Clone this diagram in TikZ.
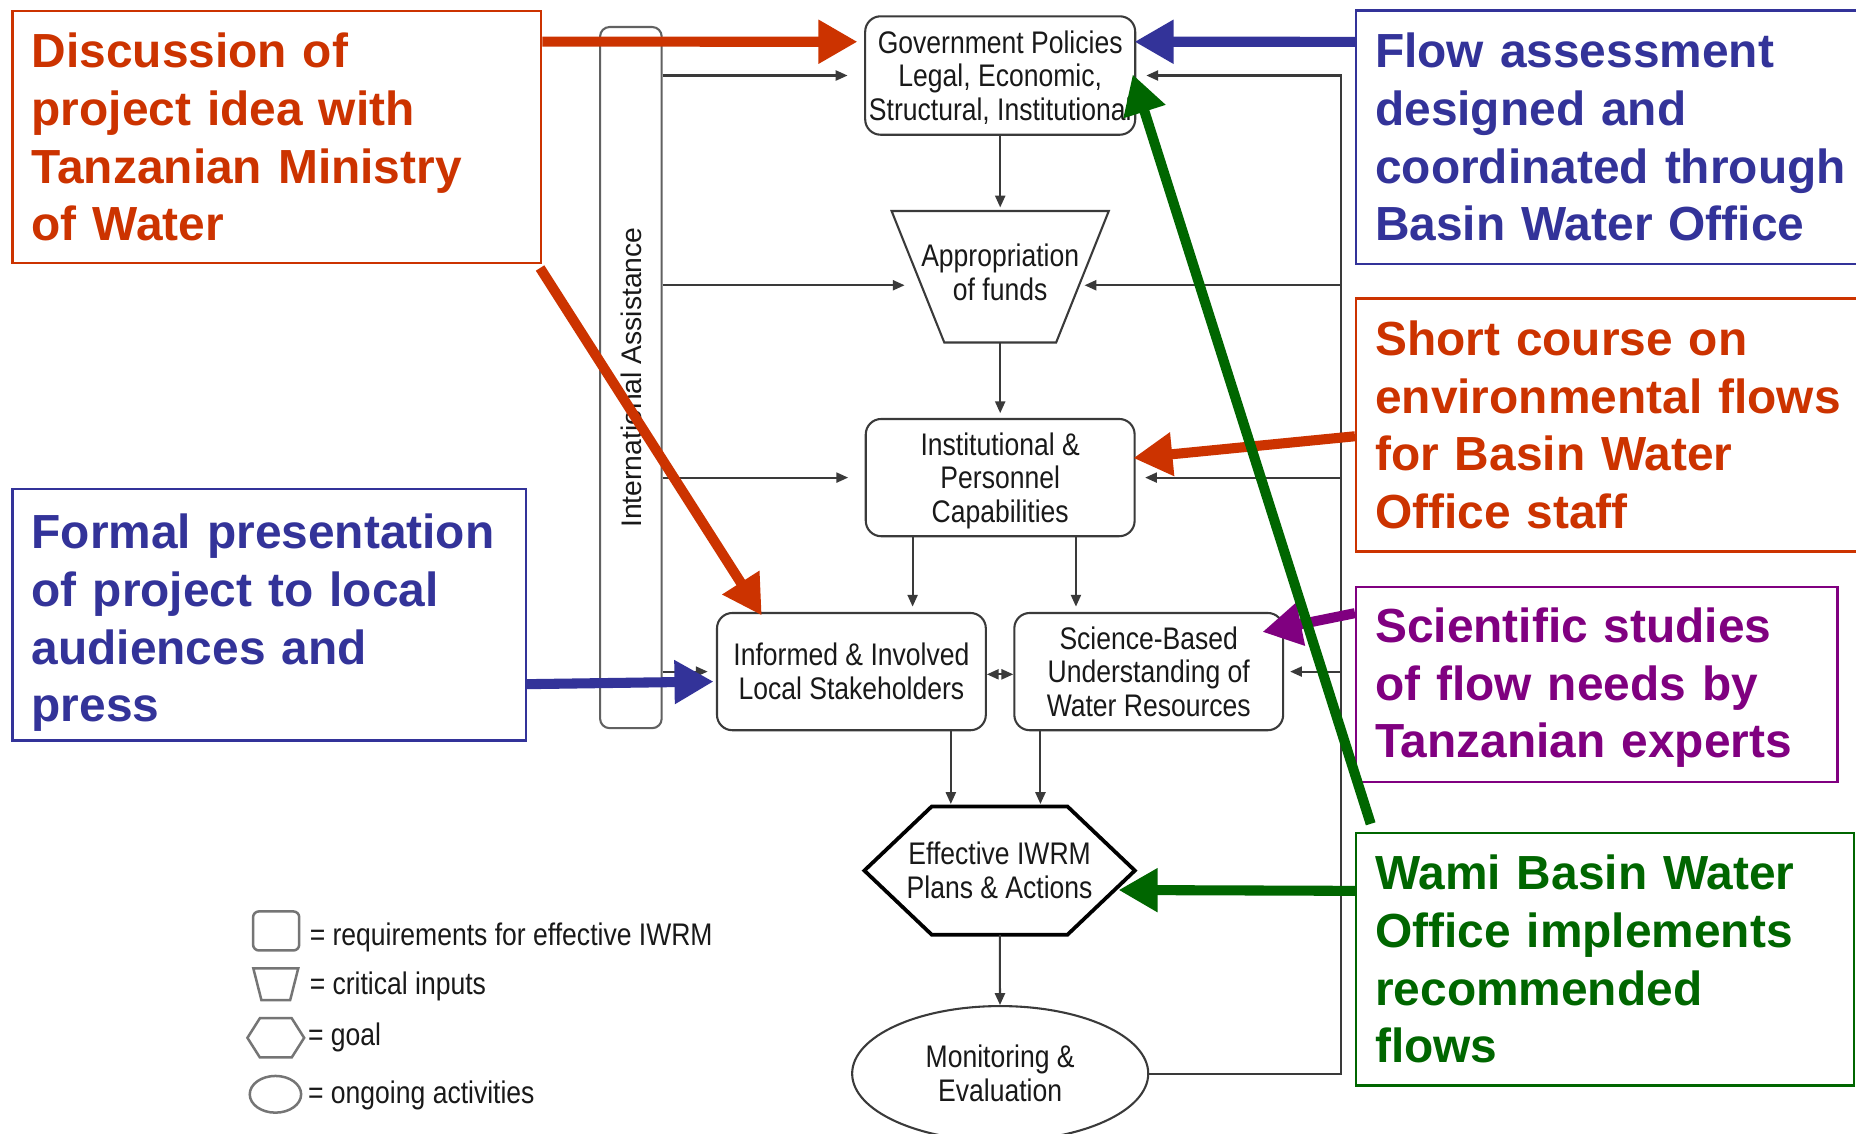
\documentclass[tikz,border=0pt]{standalone}
\usepackage{fontspec}
\setmainfont{Liberation Sans}
\newfontfamily\narrowsans[FakeStretch=0.85]{Liberation Sans}
\usepackage{graphicx}
\usetikzlibrary{arrows.meta,calc,positioning,shapes.geometric}
\definecolor{NoteRed}{HTML}{CC3300}
\definecolor{NoteBlue}{HTML}{333399}
\definecolor{NotePurple}{HTML}{800080}
\definecolor{NoteGreen}{HTML}{006600}
\definecolor{LineGrey}{HTML}{3A3A3A}

\begin{document}
\begin{tikzpicture}[x=0.01cm, y=-0.01cm,
    every node/.style={font=\narrowsans\fontsize{7.5}{8.1}\selectfont, text=black!90},
    reqbox/.style={draw=LineGrey, line width=0.5pt, rounded corners=0.13cm, inner sep=0pt, minimum width=2.27cm, minimum height=0.99cm, align=center},
    flow/.style={draw=LineGrey, line width=0.5pt, -{Triangle[length=0.1cm, width=0.085cm]}},
    note/.style={draw=#1, text=#1, line width=0.6pt, anchor=north west, align=left, inner xsep=0.16cm, inner ysep=0pt, font=\normalfont\fontsize{11.5}{13.85}\selectfont\bfseries},
    pointer/.style={draw=#1, line width=0.085cm, -{Triangle[length=0.33cm, width=0.35cm]}},
    keyshape/.style={draw=LineGrey!70, line width=0.6pt, inner sep=0pt}]
    \useasboundingbox (0,0) rectangle (1568,958);
    \fill[white] (0,0) rectangle (1568,958);

    \node[note=NoteRed, text width=4.142cm, minimum height=2.13cm] (disc) at (9.7,8.2) {Discussion of\\project idea with\\Tanzanian Ministry\\of Water};
    \node[note=NoteBlue, text width=4.013cm, minimum height=2.125cm, text depth=40pt] (formal) at (9.7,412) {Formal presentation\\of project to local\\audiences and\\press};
    \node[note=NoteBlue, text width=4.08cm, minimum height=2.138cm] (flow) at (1144.7,8) {Flow assessment\\designed and\\coordinated through\\Basin Water Office};
    \node[note=NoteRed, text width=4.08cm, minimum height=2.137cm] (short) at (1144.7,251) {Short course on\\environmental flows\\for Basin Water\\Office staff};
    \node[note=NotePurple, text width=3.743cm, minimum height=1.647cm, text depth=28.4pt] (sci) at (1144.7,494.7) {Scientific studies\\of flow needs by\\Tanzanian experts};
    \node[note=NoteGreen, text width=3.881cm, minimum height=2.133cm] (wami) at (1144.7,702.7) {Wami Basin Water\\Office implements\\recommended\\flows};

    \node[draw=LineGrey!80, line width=0.5pt, rounded corners=0.08cm, minimum width=0.52cm, minimum height=5.92cm, inner sep=0pt, font=\normalfont\fontsize{6.8}{8}\selectfont] (intl) at (533,319) {\rotatebox{90}{International Assistance}};

    \node[reqbox, minimum width=2.28cm, minimum height=1.0cm, text depth=0pt] (gov) at (845,63.8) {Government Policies\\Legal, Economic,\\Structural, Institutional};
    \node[inner sep=0pt, minimum width=1.82cm, minimum height=1.096cm, align=center, text depth=2.3pt] (funds) at (845,233.8) {Appropriation\\of funds};
    \draw[draw=LineGrey, line width=0.5pt] (funds.north west) -- (funds.north east) -- ($(funds.south east)+(-44.5,0)$) -- ($(funds.south west)+(44.5,0)$) -- cycle;
    \node[reqbox, text depth=0pt] (inst) at (845,403.5) {Institutional \&\\Personnel\\Capabilities};
    \node[reqbox] (informed) at (719.3,567.4) {Informed \& Involved\\Local Stakeholders};
    \node[reqbox] (science) at (970.5,567.4) {Science-Based\\Understanding of\\Water Resources};
    \node[inner sep=0pt, minimum width=2.27cm, minimum height=1.07cm, align=center] (effective) at (844.5,735.5) {Effective IWRM\\Plans \& Actions};
    \draw[line width=0.9pt] (effective.west) -- ($(effective.north west)+(57,0)$) -- ($(effective.north east)+(-57,0)$) -- (effective.east) -- ($(effective.south east)+(-57,0)$) -- ($(effective.south west)+(57,0)$) -- cycle;
    \node[draw=LineGrey, line width=0.5pt, ellipse, inner sep=0pt, minimum width=2.5cm, minimum height=1.14cm, align=center] (monitor) at (845,907) {Monitoring \&\\Evaluation};

    \coordinate (fundsin) at ($(funds.west)+(11,7.2)$);
    \coordinate (fundsout) at ($(funds.east)+(-20.5,7.2)$);
    \coordinate (bustop) at ($(gov.east)+(173,0)$);
    \coordinate (splitL) at ($(inst.south)+(-74,0)$);
    \coordinate (splitR) at ($(inst.south)+(64,0)$);
    \coordinate (mergeL) at ($(informed.south)+(84,0)$);
    \coordinate (mergeR) at ($(science.south)+(-91.5,0)$);

    \draw[flow, shorten >=0.03cm] (gov) -- (funds);
    \draw[flow, shorten >=0.04cm] (funds) -- (inst);
    \draw[flow, shorten >=0.045cm] (splitL) -- (splitL |- informed.north);
    \draw[flow, shorten >=0.045cm] (splitR) -- (splitR |- science.north);
    \draw[flow, {Triangle[length=0.1cm, width=0.085cm]}-{Triangle[length=0.1cm, width=0.085cm]}] ([yshift=-0.023cm]informed.east) -- ([yshift=-0.023cm]science.west);
    \draw[flow, shorten >=0.02cm] (mergeL) -- (mergeL |- effective.north);
    \draw[flow, shorten >=0.02cm] (mergeR) -- (mergeR |- effective.north);
    \draw[flow] (effective) -- (monitor);

    \draw[flow, shorten >=0.14cm] (intl.east |- gov.west) -- (gov.west);
    \draw[flow] (intl.east |- fundsin) -- (fundsin);
    \draw[flow, shorten >=0.14cm] (intl.east |- inst.west) -- (inst.west);
    \draw[flow, shorten >=0.07cm] (intl.east |- informed.west) -- (informed.west);

    \draw[flow, shorten >=0.085cm] (monitor.east) -| (bustop) -- (gov.east);
    \draw[flow] (bustop |- fundsout) -- (fundsout);
    \draw[flow, shorten >=0.08cm] (bustop |- inst.east) -- (inst.east);
    \draw[flow, shorten >=0.05cm] (bustop |- science.east) -- (science.east);

    \node[keyshape, rounded corners=0.05cm, minimum width=0.39cm, minimum height=0.33cm] (keyreq) at (233.3,786.5) {};
    \node[anchor=base west, inner sep=0pt] (keyreqtext) at (261,799) {= requirements for effective IWRM};
    \node[inner sep=0pt, minimum width=0.365cm, minimum height=0.253cm] (keyinput) at (233,831.5) {};
    \draw[keyshape] (keyinput.north west) -- (keyinput.north east) -- ($(keyinput.south east)+(-6.8,0)$) -- ($(keyinput.south west)+(6.8,0)$) -- cycle;
    \node[anchor=base west, inner sep=0pt] (keyinputtext) at (261,840) {= critical inputs};
    \node[inner sep=0pt, minimum width=0.465cm, minimum height=0.317cm] (keygoal) at (233,876.8) {};
    \draw[keyshape] (keygoal.west) -- ($(keygoal.north west)+(10.5,0)$) -- ($(keygoal.north east)+(-10.5,0)$) -- (keygoal.east) -- ($(keygoal.south east)+(-10.5,0)$) -- ($(keygoal.south west)+(10.5,0)$) -- cycle;
    \node[anchor=base west, inner sep=0pt] (keygoaltext) at (259.6,883.5) {= goal};
    \node[keyshape, ellipse, minimum width=0.434cm, minimum height=0.31cm] (keyact) at (232.7,924.5) {};
    \node[anchor=base west, inner sep=0pt] (keyacttext) at (259.6,932.5) {= ongoing activities};

    \draw[pointer=NoteRed] ([yshift=-0.27cm]disc.north east) -- ([xshift=-0.056cm, yshift=0.285cm]gov.west);
    \draw[pointer=NoteBlue] ([yshift=-0.273cm]flow.north west) -- ([xshift=-0.015cm, yshift=0.285cm]gov.east);
    \draw[pointer=NoteRed] ([xshift=-0.02cm, yshift=-0.03cm]disc.south east) -- ([xshift=0.387cm, yshift=-0.03cm]informed.north west);
    \draw[pointer=NoteRed] ([yshift=-1.175cm]short.north west) -- ([xshift=-0.02cm, yshift=0.165cm]inst.east);
    \draw[pointer=NoteBlue] ([yshift=0.487cm]formal.south east) -- ([xshift=-0.02cm, yshift=-0.084cm]informed.west);
    \draw[pointer=NotePurple] ([yshift=-0.233cm]sci.north west) -- ([xshift=-0.184cm, yshift=-0.169cm]science.north east);
    \draw[pointer=NoteGreen] ([xshift=0.133cm, yshift=0.067cm]wami.north west) -- ([xshift=-0.03cm, yshift=0.01cm]gov.east);
    \draw[pointer=NoteGreen] ([yshift=0.578cm]wami.west) -- ([xshift=-0.138cm, yshift=-0.164cm]effective.east);
\end{tikzpicture}
\end{document}
